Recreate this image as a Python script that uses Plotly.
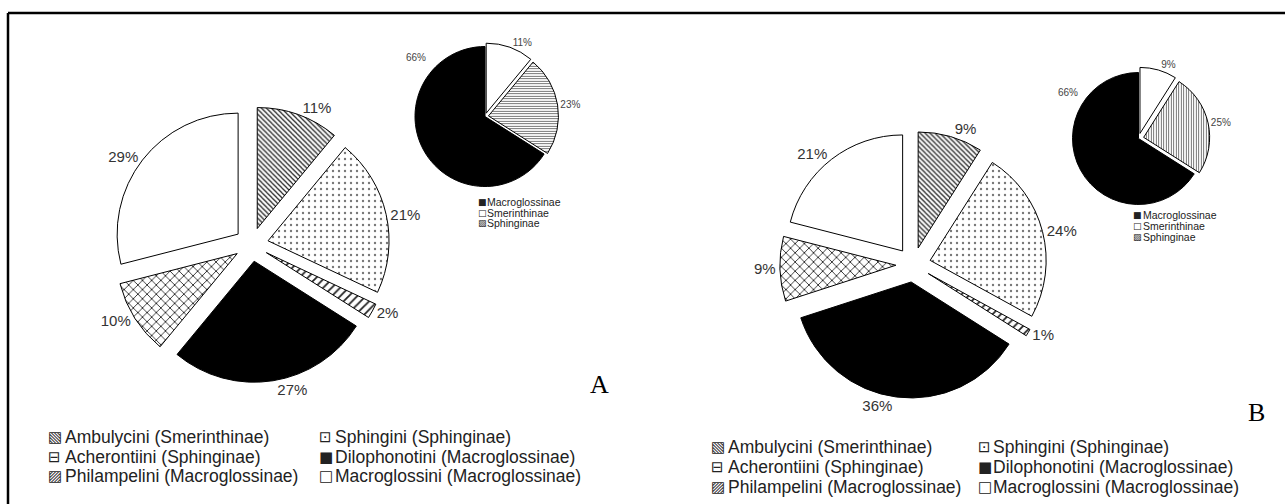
import plotly.graph_objects as go

# ---------------- data ----------------
tribes = ["Ambulycini (Smerinthinae)", "Sphingini (Sphinginae)", "Acherontiini (Sphinginae)",
          "Dilophonotini (Macroglossinae)", "Philampelini (Macroglossinae)", "Macroglossini (Macroglossinae)"]
values_a = [11, 21, 2, 27, 10, 29]
values_b = [9, 24, 1, 36, 9, 21]

subfamilies = ["Macroglossinae", "Smerinthinae", "Sphinginae"]
inset_a = [66, 11, 23]
inset_b = [66, 9, 25]

panel_labels = ["A", "B"]

# ---------------- style ----------------
W, H = 1285, 504
tribe_colors = ["white", "white", "white", "black", "white", "white"]
tribe_shapes = ["\\", ".", "/", "", "x", ""]
tribe_fg = ["#222", "#777", "#222", "black", "#222", "black"]
tribe_size = [3.5, 6, 6, 8, 6.5, 8]
tribe_sol = [0.35, 0.12, 0.3, 0.3, 0.25, 0.3]
tribe_glyph = ["\u25A7", "\u22A1", "\u229F", "\u25A0", "\u25A8", "\u25A1"]

sub_colors = ["black", "white", "white"]
sub_glyph = ["\u25A0", "\u25A1", "\u25A8"]

FONT = "Arial, Liberation Sans, sans-serif"


def domain(cx, cy, r, pull):
    half = r * (1 + pull)
    return dict(x=[(cx - half) / W, (cx + half) / W],
                y=[1 - (cy + half) / H, 1 - (cy - half) / H])


fig = go.Figure()

# large pies
for vals, (cx, cy, r, pull) in [(values_a, (251.5, 244.5, 121, 0.14)),
                                 (values_b, (913.3, 264.7, 116, 0.15))]:
    fig.add_trace(go.Pie(
        labels=tribes, values=vals, sort=False, direction="clockwise", rotation=0,
        pull=[pull] * len(vals), domain=domain(cx, cy, r, pull),
        marker=dict(colors=tribe_colors, line=dict(color="black", width=1),
                    pattern=dict(shape=tribe_shapes, fgcolor=tribe_fg, bgcolor="white",
                                 size=tribe_size, solidity=tribe_sol)),
        texttemplate="%{value}%", textposition="outside",
        textfont=dict(family=FONT, size=15, color="#333"),
        showlegend=False, hoverinfo="label+percent",
    ))

# inset pies (first slice = Macroglossinae, drawn after the other two)
inset_geo = [(485, 116.5, 70, 0.05), (1138.5, 138.5, 66, 0.08)]
inset_shapes = [["", "", "-"], ["", "", "|"]]
for vals, (cx, cy, r, pull), shp in zip([inset_a, inset_b], inset_geo, inset_shapes):
    rot = 360.0 * sum(vals[1:]) / sum(vals)
    fig.add_trace(go.Pie(
        labels=subfamilies, values=vals, sort=False, direction="clockwise", rotation=rot,
        pull=[0, pull, pull], domain=domain(cx, cy, r, pull),
        marker=dict(colors=sub_colors, line=dict(color="black", width=1),
                    pattern=dict(shape=shp, fgcolor="#555", bgcolor="white", size=2.5, solidity=0.35)),
        text=["", f"{vals[1]}%", f"{vals[2]}%"], textinfo="text", textposition="outside",
        textfont=dict(family=FONT, size=10, color="#444"),
        showlegend=False, hoverinfo="label+percent",
    ))

ann = []
# 66% labels of insets (placed upper-left in the original)
for vals, (x, y) in zip([inset_a, inset_b], [(416, 57), (1068, 92.5)]):
    ann.append(dict(text=f"{vals[0]}%", x=x / W, y=1 - y / H, xref="paper", yref="paper",
                    xanchor="center", yanchor="middle", showarrow=False,
                    font=dict(family=FONT, size=10, color="#444")))

# main legends (2 columns x 3 rows, row-major)
leg_geo = [
    dict(glyph_x=[46, 317], text_x=[63, 333], rows=[437, 457, 476]),
    dict(glyph_x=[709, 976], text_x=[726, 991], rows=[447, 467, 487]),
]
for g in leg_geo:
    for i, name in enumerate(tribes):
        col, row = i % 2, i // 2
        y = 1 - g["rows"][row] / H
        ann.append(dict(text=tribe_glyph[i], x=g["glyph_x"][col] / W, y=y, xref="paper", yref="paper",
                        xanchor="left", yanchor="middle", showarrow=False,
                        font=dict(family="DejaVu Sans", size=15, color="#222")))
        ann.append(dict(text=name, x=g["text_x"][col] / W, y=y, xref="paper", yref="paper",
                        xanchor="left", yanchor="middle", showarrow=False,
                        font=dict(family=FONT, size=17.5, color="#222")))

# inset legends
inset_leg = [dict(gx=476, tx=485, rows=[201.7, 212.5, 223]),
             dict(gx=1131, tx=1141, rows=[215, 226, 237])]
for g in inset_leg:
    for i, name in enumerate(subfamilies):
        y = 1 - g["rows"][i] / H
        ann.append(dict(text=sub_glyph[i], x=g["gx"] / W, y=y, xref="paper", yref="paper",
                        xanchor="left", yanchor="middle", showarrow=False,
                        font=dict(family="DejaVu Sans", size=9, color="#222")))
        ann.append(dict(text=name, x=g["tx"] / W, y=y, xref="paper", yref="paper",
                        xanchor="left", yanchor="middle", showarrow=False,
                        font=dict(family=FONT, size=10.5, color="#222")))

# panel letters
for lab, (x, y) in zip(panel_labels, [(599, 384), (1256, 412)]):
    ann.append(dict(text=lab, x=x / W, y=1 - y / H, xref="paper", yref="paper",
                    xanchor="center", yanchor="middle", showarrow=False,
                    font=dict(family="Times New Roman, Liberation Serif, serif",
                              size=26, color="black")))

shapes = [
    dict(type="line", xref="paper", yref="paper", x0=8 / W, x1=1, y0=1 - 13 / H, y1=1 - 13 / H,
         line=dict(color="black", width=2.5)),
    dict(type="line", xref="paper", yref="paper", x0=8 / W, x1=8 / W, y0=0, y1=1 - 13 / H,
         line=dict(color="black", width=2.5)),
]

fig.update_layout(width=W, height=H, margin=dict(l=0, r=0, t=0, b=0),
                  paper_bgcolor="white", plot_bgcolor="white",
                  annotations=ann, shapes=shapes, showlegend=False)

fig.write_html("out.html")
